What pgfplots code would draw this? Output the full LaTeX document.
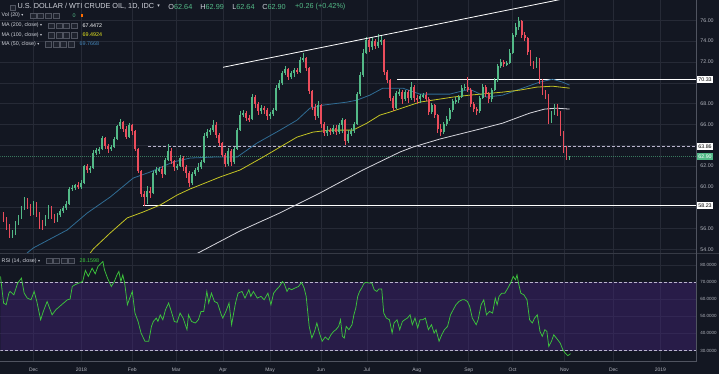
\documentclass[border=0pt]{standalone}
\usepackage{fontspec}
\setmainfont{Liberation Sans}
\newfontfamily\symf{DejaVu Sans}
\usepackage{pgfplots}
\usepackage{pgfplotstable}
\pgfplotsset{compat=1.18}
\definecolor{bg}{RGB}{19,23,34}
\definecolor{gridc}{RGB}{38,42,54}
\definecolor{tickc}{RGB}{178,181,190}
\definecolor{titlec}{RGB}{209,212,220}
\definecolor{upc}{RGB}{83,185,135}
\definecolor{dnc}{RGB}{235,77,92}
\definecolor{ma200}{RGB}{215,215,222}
\definecolor{ma100}{RGB}{196,196,36}
\definecolor{ma100t}{RGB}{232,232,30}
\definecolor{ma50}{RGB}{48,108,148}
\definecolor{ma50t}{RGB}{66,130,180}
\definecolor{rsic}{RGB}{60,196,60}
\definecolor{bandc}{RGB}{66,36,120}
\definecolor{dashc}{RGB}{185,180,205}
\definecolor{sepc}{RGB}{54,58,69}
\definecolor{boxc}{RGB}{30,34,45}
\definecolor{boxe}{RGB}{80,84,96}
\newcommand\fs[1]{\fontsize{#1}{#1}\selectfont}

\pgfplotstableread{
x o h l c
12 55.3 55.9 55.1 55.6
15 55.6 56.7 55.4 56.5
18 56.5 57.3 56.3 57.0
21 57.0 58.2 56.9 58.0
24 58.0 59.0 57.8 58.7
33 57.5 58.6 57.3 58.3
45 56.4 57.3 56.2 57.1
48 57.1 58.3 56.9 58.0
57 56.8 57.5 56.6 57.3
60 57.3 57.9 57.1 57.7
63 57.7 58.2 57.5 58.0
66 58.0 58.6 57.8 58.4
69 58.4 60.0 58.3 59.8
72 59.8 60.2 59.6 59.9
75 59.9 60.3 59.7 60.2
81 60.0 60.7 59.8 60.4
84 60.4 62.1 60.3 62.0
90 61.6 62.0 61.3 61.8
93 61.8 63.5 61.7 63.3
96 63.3 63.7 63.1 63.5
99 63.5 63.8 63.2 63.6
102 63.6 64.9 63.5 64.7
111 63.6 64.0 63.4 63.8
114 63.8 64.8 63.7 64.6
117 64.6 65.9 64.5 65.8
120 65.8 66.5 65.6 66.2
129 64.8 66.1 64.7 65.9
147 59.0 60.1 58.4 59.6
153 59.4 61.5 59.3 61.3
156 61.3 61.9 61.1 61.6
159 61.6 61.9 61.4 61.7
165 61.2 62.8 61.1 62.6
168 62.6 64.1 62.5 63.4
177 61.9 62.2 61.6 62.0
180 62.0 63.1 61.9 62.8
192 60.4 61.4 60.2 61.2
195 61.2 61.8 61.0 61.6
198 61.6 62.3 61.4 61.9
201 61.9 62.6 61.7 62.4
204 62.4 65.2 62.3 64.9
207 64.9 65.6 64.7 65.3
210 65.3 65.7 65.0 65.5
213 65.5 66.4 65.3 65.9
228 62.2 63.7 62.0 63.4
234 62.4 63.8 62.2 63.6
237 63.6 65.7 63.5 65.5
240 65.5 67.3 65.4 66.9
243 66.9 67.4 66.7 67.1
252 66.5 68.9 66.4 68.6
261 67.3 67.9 67.0 67.6
270 66.8 67.2 66.5 67.0
273 67.0 67.6 66.8 67.4
276 67.4 69.8 67.3 69.5
279 69.5 70.3 69.3 70.0
282 70.0 71.1 69.8 70.9
285 70.9 71.6 70.7 71.3
291 70.6 71.1 70.4 70.9
294 70.9 71.4 70.6 71.2
300 71.0 72.5 70.9 72.2
303 72.2 72.9 72.0 72.4
318 66.8 68.2 66.6 67.9
327 65.2 65.8 64.9 65.5
333 65.3 65.9 65.1 65.7
339 65.3 66.1 65.1 65.9
342 65.9 66.6 65.2 66.4
348 64.4 65.5 64.2 65.1
351 65.1 65.7 64.9 65.4
354 65.4 66.2 65.2 66.0
357 66.0 69.1 65.9 68.9
360 68.9 71.0 68.7 70.7
363 70.7 73.2 70.6 72.9
366 72.9 74.4 72.8 74.1
372 73.4 74.4 73.1 74.0
378 73.5 74.7 73.3 73.9
381 73.9 74.5 73.6 74.1
396 67.6 69.2 67.5 69.0
399 69.0 69.4 68.7 69.1
405 68.4 69.3 68.2 69.1
411 68.5 70.1 68.3 69.6
420 68.4 68.9 68.1 68.7
423 68.7 69.0 68.5 68.8
432 67.2 68.1 67.0 67.9
444 65.3 66.2 65.1 66.0
447 66.0 66.8 65.8 66.5
450 66.5 67.6 66.3 67.4
453 67.4 68.4 67.2 68.2
456 68.2 68.6 68.0 68.3
459 68.3 68.8 68.1 68.6
462 68.6 69.8 68.5 69.5
465 69.5 69.9 69.3 69.6
480 67.3 68.7 67.1 68.5
483 68.5 69.9 68.4 69.6
492 68.4 69.5 68.2 69.3
495 69.3 70.5 69.2 70.3
498 70.3 71.8 70.1 71.6
501 71.6 72.3 71.4 72.0
507 71.8 72.1 71.6 71.9
510 71.9 73.2 71.8 72.9
513 72.9 74.8 72.8 74.6
516 74.6 75.7 74.4 75.4
519 75.4 76.3 75.1 75.9
537 71.6 72.5 71.4 72.3
552 66.3 67.3 66.1 67.1
555 67.1 68.0 66.9 67.8
570 62.6 63.0 62.6 62.9
}\upt

\pgfplotstableread{
x o h l c
3 57.4 57.6 56.6 56.9
6 56.9 57.1 55.9 56.2
9 56.2 56.4 55.1 55.3
27 58.7 58.9 57.9 58.2
30 58.2 58.4 57.2 57.5
36 58.3 58.5 57.1 57.4
39 57.4 57.6 56.0 56.5
42 56.5 56.8 55.9 56.4
51 58.0 58.2 56.9 57.2
54 57.2 57.4 56.5 56.8
78 60.2 60.5 59.8 60.0
87 62.0 62.2 61.3 61.6
105 64.7 64.8 63.6 63.9
108 63.9 64.1 63.3 63.6
123 66.2 66.3 65.3 65.6
126 65.6 65.8 64.6 64.8
132 65.9 66.0 65.0 65.4
135 65.4 65.5 63.4 63.6
138 63.6 63.7 61.3 61.5
141 61.5 61.6 59.0 59.3
144 59.3 59.6 58.2 59.0
150 59.6 60.0 58.9 59.4
162 61.7 62.0 60.9 61.2
171 63.4 63.7 62.2 62.5
174 62.5 62.6 61.5 61.9
183 62.8 63.0 61.5 61.9
186 61.9 62.1 60.9 61.3
189 61.3 61.5 60.0 60.4
216 65.9 66.2 64.7 65.0
219 65.0 65.2 63.9 64.2
222 64.2 64.3 62.9 63.1
225 63.1 63.3 61.9 62.2
231 63.4 63.6 62.0 62.4
246 67.1 67.3 66.3 66.6
249 66.6 66.9 66.2 66.5
255 68.6 68.8 67.6 68.0
258 68.0 68.2 66.9 67.3
264 67.6 67.8 67.0 67.4
267 67.4 67.6 66.4 66.8
288 71.3 71.4 70.3 70.6
297 71.2 71.4 70.8 71.0
306 72.4 72.5 71.1 71.4
309 71.4 71.5 68.9 69.2
312 69.2 69.3 67.4 67.7
315 67.7 68.0 66.4 66.8
321 67.9 68.0 65.7 66.0
324 66.0 66.2 64.9 65.2
330 65.5 65.7 65.0 65.3
336 65.7 65.9 65.0 65.3
345 66.4 66.5 64.0 64.4
369 74.1 74.3 73.0 73.4
375 74.0 74.2 73.2 73.5
384 74.1 74.2 70.7 71.0
387 71.0 71.2 70.0 70.3
390 70.3 70.4 68.2 68.5
393 68.5 68.7 67.3 67.6
402 69.1 69.3 68.0 68.4
408 69.1 69.3 68.1 68.5
414 69.6 69.8 68.2 68.5
417 68.5 68.8 68.0 68.4
426 68.8 69.1 68.2 68.4
429 68.4 68.6 66.9 67.2
435 67.9 68.0 66.6 66.9
438 66.9 67.0 65.2 65.6
441 65.6 66.0 64.9 65.3
468 69.6 70.6 69.1 69.3
471 69.3 69.5 67.7 68.0
474 68.0 68.2 67.2 67.5
477 67.5 67.7 66.9 67.3
486 69.6 69.8 68.6 68.9
489 68.9 69.1 68.1 68.4
504 72.0 72.2 71.5 71.8
522 75.9 76.0 74.3 74.6
525 74.6 74.9 74.0 74.3
528 74.3 74.4 72.7 73.0
531 73.0 73.1 71.6 71.9
534 71.9 72.1 71.3 71.6
540 72.3 72.4 69.9 70.2
543 70.2 70.4 68.8 69.1
546 69.1 69.3 68.4 68.8
549 68.8 68.9 66.0 66.3
558 67.8 68.0 66.8 67.1
561 67.1 67.3 64.9 65.2
564 65.2 65.4 63.3 63.6
567 63.6 63.9 62.6 62.8
}\dnt

\pgfplotsset{
  tvaxis/.style={
    scale only axis, width=697pt, xmin=0, xmax=697,
    axis line style={draw=none}, major tick length=0pt,
    enlargelimits=false, clip mode=individual,
    xtick={33,81,132,176,223,270,321,367,417,469,513,565,614,661},
    grid=major, major grid style={draw=gridc, line width=0.5pt},
    yticklabel pos=right,
    /pgf/number format/assume math mode=true,
    yticklabel style={text=tickc, anchor=west, xshift=0.6pt},
  },
  wick/.style={draw=none, mark=none, forget plot,
    error bars/.cd, y dir=both, y explicit, error mark=none,
    error bar style={line width=0.55pt, draw=#1}},
  body/.style={draw=none, mark=none, forget plot,
    error bars/.cd, y dir=both, y explicit, error mark=none,
    error bar style={line width=1.8pt, draw=#1}},
}

\begin{document}
\begin{tikzpicture}[x=1pt,y=1pt]
\fill[bg] (0,0) rectangle (720,374);

% ---------------- price pane ----------------
\begin{axis}[tvaxis, name=price, at={(0pt,121pt)}, anchor=south west, height=253pt,
  ymin=53.66, ymax=77.92, ytick={54,56,...,76}, xticklabels={},
  yticklabel style={font=\fs{5.3}},
  yticklabels={54.00,56.00,,60.00,62.00,,66.00,68.00,,72.00,74.00,76.00}]
  % horizontal levels
  \addplot[upc, line width=0.5pt, dash pattern=on 1pt off 1pt, opacity=0.6] coordinates {(0,62.90) (697,62.90)};
  \addplot[dashc, line width=0.7pt, dash pattern=on 3pt off 2pt] coordinates {(148,63.86) (697,63.86)};
  \addplot[white, line width=0.8pt] coordinates {(143,58.23) (697,58.23)};
  \addplot[white, line width=0.8pt] coordinates {(397,70.33) (697,70.33)};
  % moving averages
  \addplot[ma50, line width=0.8pt] coordinates {(20,53.0) (28,53.76) (33,54.14) (67,55.87) (87,57.50) (110,59.03) (133,60.85) (150,61.43) (173,62.39) (190,62.77) (213,62.86) (237,62.86) (257,64.21) (280,65.45) (297,66.41) (310,67.56) (323,67.85) (347,68.14) (357,68.33) (370,68.81) (383,69.48) (403,69.48) (420,68.91) (450,68.91) (470,69.38) (487,68.62) (503,68.81) (523,69.48) (540,70.06) (553,70.34) (563,70.06) (570,69.77)};
  \addplot[ma100, line width=0.8pt] coordinates {(88,53.4) (93,54.04) (110,55.58) (127,57.02) (143,57.59) (160,58.26) (177,59.22) (190,59.80) (200,60.18) (220,60.95) (240,61.62) (263,62.86) (280,63.82) (297,64.78) (313,65.26) (330,65.45) (353,65.45) (367,66.12) (380,66.89) (390,67.18) (420,68.14) (453,68.62) (470,68.81) (503,69.10) (520,69.29) (537,69.58) (553,69.67) (570,69.48)};
  \addplot[ma200, line width=0.8pt] coordinates {(193,53.4) (240,55.77) (280,57.50) (320,59.41) (363,61.62) (400,63.34) (413,63.82) (440,64.59) (480,65.55) (503,66.12) (530,67.08) (545,67.47) (557,67.56) (570,67.47)};
  % candles
  \addplot[wick=upc] table[x=x, y expr={(\thisrow{h}+\thisrow{l})/2}, y error expr={(\thisrow{h}-\thisrow{l})/2}] {\upt};
  \addplot[body=upc] table[x=x, y expr={(\thisrow{o}+\thisrow{c})/2}, y error expr={(\thisrow{c}-\thisrow{o})/2}] {\upt};
  \addplot[wick=dnc] table[x=x, y expr={(\thisrow{h}+\thisrow{l})/2}, y error expr={(\thisrow{h}-\thisrow{l})/2}] {\dnt};
  \addplot[body=dnc] table[x=x, y expr={(\thisrow{o}+\thisrow{c})/2}, y error expr={(\thisrow{o}-\thisrow{c})/2}] {\dnt};
  % channel trend line
  \addplot[white, line width=0.8pt] coordinates {(223,71.49) (600,78.75)};
  % right-side price labels
  \node[anchor=west, fill=white, text=black, font=\fs{5.3}, inner xsep=1.3pt, inner ysep=1.6pt, xshift=0.6pt] at (axis cs:697,70.33) {70.33};
  \node[anchor=west, fill=white, text=black, font=\fs{5.3}, inner xsep=1.3pt, inner ysep=1.6pt, xshift=0.6pt] at (axis cs:697,63.86) {63.86};
  \node[anchor=west, fill=upc, text=white, font=\fs{5.3}, inner xsep=1.3pt, inner ysep=1.6pt, xshift=0.6pt] at (axis cs:697,62.90) {62.90};
  \node[anchor=west, fill=white, text=black, font=\fs{5.3}, inner xsep=1.3pt, inner ysep=1.6pt, xshift=0.6pt] at (axis cs:697,58.23) {58.23};
\end{axis}

% ---------------- RSI pane ----------------
\begin{axis}[tvaxis, name=rsi, at={(0pt,12pt)}, anchor=south west, height=108pt,
  ymin=23.45, ymax=86.6, ytick={30,40,...,80},
  xticklabels={Dec,2018,Feb,Mar,Apr,May,Jun,Jul,Aug,Sep,Oct,Nov,Dec,2019},
  xticklabel style={font=\fs{5}, text=tickc, yshift=-3pt},
  yticklabel style={font=\fs{4.5}},
  yticklabel={\pgfmathprintnumber[fixed,fixed zerofill,precision=4]{\tick}}]
  \addplot[draw=none, fill=bandc, fill opacity=0.45, forget plot] coordinates {(0,30) (697,30) (697,70) (0,70)} -- cycle;
  \addplot[dashc, line width=0.6pt, dash pattern=on 3pt off 2pt] coordinates {(0,70) (697,70)};
  \addplot[dashc, line width=0.6pt, dash pattern=on 3pt off 2pt] coordinates {(0,30) (697,30)};
  \addplot[rsic, line width=0.75pt] coordinates {(0,73.4) (3.1,57.8) (5.7,56.8) (8.4,63.6) (9.6,64.6) (13.4,62.6) (17.2,69.5) (21.0,72.4) (23.7,63.6) (26.8,60.7) (30.6,59.7) (33.7,64.6) (36.4,58.7) (40.2,48.0) (42.9,52.9) (46.7,58.7) (51.7,50.9) (55.5,53.9) (61.2,56.8) (67.0,59.7) (69.7,60.1) (71.9,67.5) (74.6,68.5) (78.5,69.5) (82.3,70.4) (85.0,76.9) (88.0,73.4) (91.8,78.2) (94.9,74.9) (97.6,79.2) (100.3,80.8) (102.6,82.1) (104.1,77.3) (107.2,72.4) (111.0,67.5) (114.0,70.4) (116.7,74.3) (118.6,76.3) (120.6,70.4) (122.5,74.3) (124.4,69.5) (127.1,56.8) (130.1,61.7) (132.0,64.6) (134.7,51.9) (137.8,47.0) (140.8,40.2) (144.7,35.4) (148.5,35.4) (151.2,44.1) (153.1,47.0) (156.1,49.0) (157.7,47.0) (160.0,50.9) (162.6,48.0) (165.3,53.9) (168.4,57.8) (171.1,52.9) (174.1,47.0) (176.8,46.5) (179.9,51.9) (182.9,49.0) (186.8,42.2) (188.3,50.9) (191.4,47.0) (195.2,46.1) (198.2,48.0) (200.9,52.9) (203.6,52.9) (206.7,64.6) (208.6,57.8) (211.3,63.6) (214.3,58.7) (217.4,57.8) (221.2,50.9) (222.7,49.0) (225.8,52.9) (228.9,57.8) (231.5,45.1) (235.4,57.8) (238.0,63.6) (241.9,64.6) (244.9,60.7) (248.8,65.6) (250.7,61.7) (253.3,64.6) (257.2,60.7) (261.0,61.7) (264.1,59.7) (267.9,63.6) (270.9,56.8) (273.6,63.6) (276.3,65.6) (279.4,67.5) (282.4,70.4) (284.0,69.5) (287.0,64.6) (288.9,66.5) (291.6,65.6) (294.7,66.5) (298.5,67.5) (301.6,69.9) (304.2,66.5) (306.2,61.7) (309.2,44.1) (311.9,37.3) (314.6,41.2) (316.9,46.1) (319.5,40.2) (322.2,35.4) (325.3,37.9) (328.4,36.3) (331.0,39.2) (333.7,41.2) (336.0,42.2) (338.7,44.1) (340.6,48.0) (342.5,38.3) (344.4,37.3) (346.3,44.1) (349.0,42.2) (352.1,45.1) (354.0,50.9) (355.9,54.9) (357.8,61.7) (359.7,64.6) (361.7,66.5) (364.3,69.5) (366.6,69.9) (369.3,69.5) (372.0,69.5) (374.3,65.6) (377.0,64.6) (378.9,66.0) (381.9,66.0) (383.9,51.9) (386.5,49.0) (389.6,48.0) (392.3,40.2) (394.2,46.1) (397.2,48.0) (399.9,42.2) (402.6,47.0) (404.9,48.0) (407.6,49.0) (410.3,50.9) (412.5,45.1) (415.2,49.0) (417.9,43.2) (420.2,48.0) (422.9,48.0) (425.6,49.0) (428.6,42.2) (431.7,45.1) (434.4,40.2) (436.3,42.2) (439.3,35.4) (442.0,39.2) (444.7,42.2) (447.8,44.1) (450.8,50.9) (453.5,53.9) (456.2,56.8) (459.2,58.7) (462.3,59.7) (465.0,59.7) (467.7,58.7) (470.0,55.8) (472.6,49.0) (476.5,45.1) (478.4,48.0) (481.4,56.8) (484.1,59.7) (486.8,50.9) (489.9,52.9) (492.9,51.9) (495.6,60.7) (497.5,56.8) (499.4,61.7) (502.1,63.6) (505.2,63.6) (508.2,66.5) (510.9,69.5) (513.6,73.4) (515.9,71.4) (517.4,74.3) (518.9,69.5) (521.2,63.6) (524.3,62.6) (527.4,59.7) (530.0,48.0) (532.7,46.1) (535.0,49.0) (537.7,50.9) (540.4,41.2) (542.7,38.3) (545.3,42.2) (547.3,41.2) (549.2,32.4) (551.9,35.4) (554.2,39.2) (556.8,37.3) (560.6,34.4) (563.3,30.5) (565.6,28.5) (568.3,27.0) (571.0,28.1)};
\end{axis}

% ---------------- frame lines ----------------
\draw[sepc, line width=1pt] (0,120.5) -- (720,120.5);
\draw[boxe, line width=0.6pt] (697,12) -- (697,374);
\draw[boxe, line width=0.6pt] (0,12) -- (697,12);

% ---------------- legend texts ----------------
\draw[boxe, line width=0.5pt, fill=boxc] (9.5,364.5) rectangle (14.5,369.5);
\node[anchor=west, inner sep=0, font=\fs{7.3}, text=titlec] at (17,367.6) {U.S. DOLLAR / WTI CRUDE OIL, 1D, IDC};
\node[anchor=west, inner sep=0, font=\symf\fs{5}, text=titlec] at (157,367.6) {▾};
\node[anchor=west, inner sep=0, font=\fs{7.3}] at (168,367.6) {\color{titlec}O\color{upc}62.64};
\node[anchor=west, inner sep=0, font=\fs{7.3}] at (200,367.6) {\color{titlec}H\color{upc}62.99};
\node[anchor=west, inner sep=0, font=\fs{7.3}] at (232,367.6) {\color{titlec}L\color{upc}62.64};
\node[anchor=west, inner sep=0, font=\fs{7.3}] at (262,367.6) {\color{titlec}C\color{upc}62.90};
\node[anchor=west, inner sep=0, font=\fs{7.3}, text=upc] at (295,367.6) {+0.26 (+0.42\%)};

\newcommand\iconboxes[2]{%
  \foreach \k in {0,1,2,3} {\draw[boxe, line width=0.4pt, fill=boxc] (#1+\k*7.6,#2-2.8) rectangle (#1+\k*7.6+6,#2+2.8);}}

\node[anchor=west, inner sep=0, font=\fs{5.3}, text=titlec] at (1,358.7) {Vol (20) {\symf\fs{4}▾}};
\iconboxes{29.5}{358.7}
\node[anchor=west, inner sep=0, font=\fs{5.4}, text=upc] at (72,358.7) {0};
\fill[orange!85!red] (80.5,356.8) rectangle (83,360.6);

\node[anchor=west, inner sep=0, font=\fs{5.3}, text=titlec] at (1,348.7) {MA (200, close) {\symf\fs{4}▾}};
\iconboxes{48}{348.7}
\node[anchor=west, inner sep=0, font=\fs{5.4}, text=white] at (82,348.7) {67.4472};

\node[anchor=west, inner sep=0, font=\fs{5.3}, text=titlec] at (1,339.3) {MA (100, close) {\symf\fs{4}▾}};
\iconboxes{48}{339.3}
\node[anchor=west, inner sep=0, font=\fs{5.4}, text=ma100t] at (82,339.3) {69.4924};

\node[anchor=west, inner sep=0, font=\fs{5.3}, text=titlec] at (1,330.3) {MA (50, close) {\symf\fs{4}▾}};
\iconboxes{45}{330.3}
\node[anchor=west, inner sep=0, font=\fs{5.4}, text=ma50t] at (79,330.3) {69.7668};

\node[anchor=west, inner sep=0, font=\fs{5.3}, text=titlec] at (1,113) {RSI (14, close) {\symf\fs{4}▾}};
\iconboxes{45.5}{113}
\node[anchor=west, inner sep=0, font=\fs{5.4}, text=rsic] at (79,113) {28.1598};
\end{tikzpicture}
\end{document}
